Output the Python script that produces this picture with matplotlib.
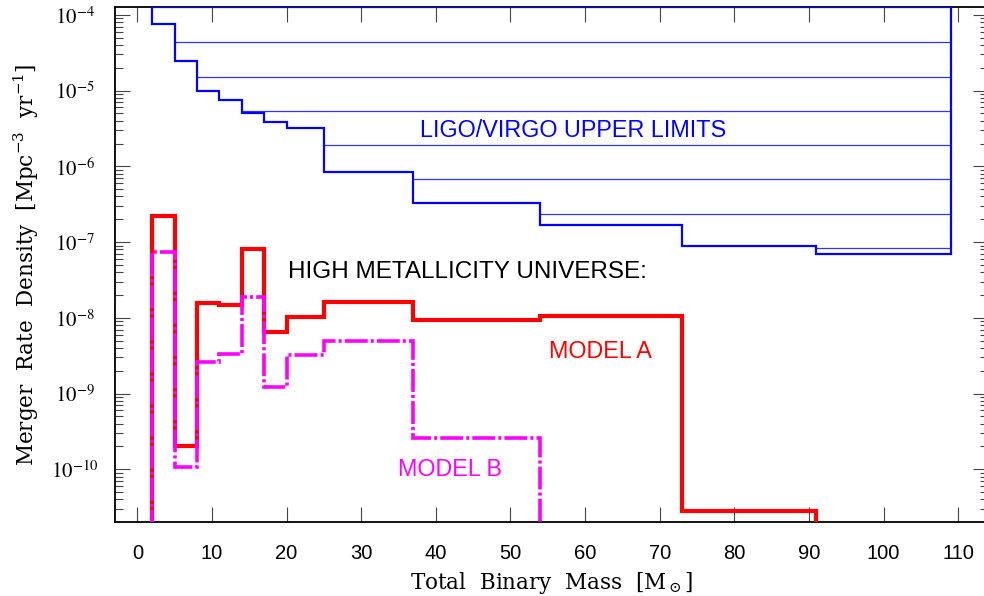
import numpy as np
import matplotlib
matplotlib.use("Agg")
import matplotlib.pyplot as plt
from matplotlib.ticker import FixedLocator, LogLocator, NullFormatter

# Bordas dos bins de massa total (M_sol)
edges = [2, 5, 8, 11, 14, 17, 20, 25, 37, 54, 73, 91, 109]

# Limites superiores LIGO/VIRGO (linha grossa em degraus)
ligo_limit = [7.5e-5, 2.47e-5, 1.0e-5, 7.5e-6, 5.0e-6, 3.8e-6, 3.2e-6,
              8.5e-7, 3.3e-7, 1.68e-7, 8.9e-8, 7.0e-8]
# Linhas finas horizontais (inicio em x, nivel)
thin_start = [5, 8, 14, 25, 37, 54, 91]
thin_level = [4.36e-5, 1.53e-5, 5.44e-6, 1.92e-6, 6.76e-7, 2.34e-7, 8.4e-8]

# Modelo A (bins 2..91) e Modelo B (bins 2..54)
model_a = [2.2e-7, 2.0e-10, 1.58e-8, 1.46e-8, 8.1e-8, 6.5e-9, 1.01e-8,
           1.63e-8, 9.3e-9, 1.07e-8, 2.8e-11]
model_b = [7.3e-8, 1.08e-10, 2.58e-9, 3.3e-9, 1.9e-8, 1.21e-9, 3.2e-9,
           5.0e-9, 2.56e-10]

x_ticks = list(range(0, 111, 10))
y_major = [1e-4, 1e-5, 1e-6, 1e-7, 1e-8, 1e-9, 1e-10]
y_labels = [r"$10^{-4}$", r"$10^{-5}$", r"$10^{-6}$", r"$10^{-7}$",
            r"$10^{-8}$", r"$10^{-9}$", r"$10^{-10}$"]

xmin, xmax = -3.0, 114.0
ymin, ymax = 2.01e-11, 1.26e-4

plt.rcParams['lines.scale_dashes'] = False

fig = plt.figure(figsize=(9.84, 5.96), dpi=100)
ax = fig.add_axes([115/984, 74/596, 873/984, 514.7/596])
ax.set_yscale('log')
ax.set_xlim(xmin, xmax)
ax.set_ylim(ymin, ymax)

# LIGO/VIRGO
ax.stairs(ligo_limit, edges, baseline=ymax, color='#0000ff', lw=1.6, zorder=3)
ax.hlines(ymax, edges[0], edges[-1], color='#0000ff', lw=1.6, zorder=3)
ax.hlines(thin_level, thin_start, edges[-1], color='#3333ff', lw=0.9, zorder=2)

# Modelos
ax.stairs(model_a, edges[:len(model_a) + 1], baseline=1e-13,
          color='#ff0000', lw=3.0, zorder=4)
ax.stairs(model_b, edges[:len(model_b) + 1], baseline=1e-13,
          color='#ff00ff', lw=2.6, zorder=5,
          linestyle=(0, (16.5, 2.2, 2.2, 2.2)))

# Textos
sans = ['Liberation Sans', 'DejaVu Sans']
ax.text(37.9, 3.0e-6, "LIGO/VIRGO UPPER LIMITS", color='#0000ff',
        fontsize=16.8, family=sans, va='center', ha='left')
ax.text(20.2, 4.07e-8, "HIGH METALLICITY UNIVERSE:", color='black',
        fontsize=17.5, family=sans, va='center', ha='left')
ax.text(55.1, 3.57e-9, "MODEL A", color='#ff0000',
        fontsize=16.8, family=sans, va='center', ha='left')
ax.text(34.9, 9.9e-11, "MODEL B", color='#ff00ff',
        fontsize=16.8, family=sans, va='center', ha='left')

# Eixos
ax.xaxis.set_major_locator(FixedLocator(x_ticks))
ax.set_xticklabels([str(t) for t in x_ticks], family=sans, fontsize=14.5)
ax.yaxis.set_major_locator(FixedLocator(y_major))
ax.set_yticklabels(y_labels, fontsize=15, math_fontfamily='stix')
plt.setp(ax.get_yticklabels(), ha='center')
ax.yaxis.set_minor_locator(LogLocator(base=10, subs=np.arange(2, 10), numticks=30))
ax.yaxis.set_minor_formatter(NullFormatter())

ax.tick_params(which='both', direction='in', top=True, right=True,
               color='#444444', width=0.8)
ax.tick_params(which='major', length=11)
ax.tick_params(which='minor', length=5.5)
ax.tick_params(axis='x', pad=15.5)
ax.tick_params(axis='y', pad=29)

for s in ax.spines.values():
    s.set_linewidth(1.3)
    s.set_color('black')

ax.set_xlabel(r"Total  Binary  Mass  [M$_\odot$]", family='DejaVu Serif',
              fontsize=15.5, math_fontfamily='dejavuserif')
ax.set_ylabel(r"Merger  Rate  Density  [Mpc$^{-3}$  yr$^{-1}$]", family='DejaVu Serif',
              fontsize=15.5, math_fontfamily='dejavuserif')
ax.xaxis.set_label_coords(0.5, -0.093)
ax.yaxis.set_label_coords(-0.085, 0.5)

fig.savefig("out.png", dpi=100)
